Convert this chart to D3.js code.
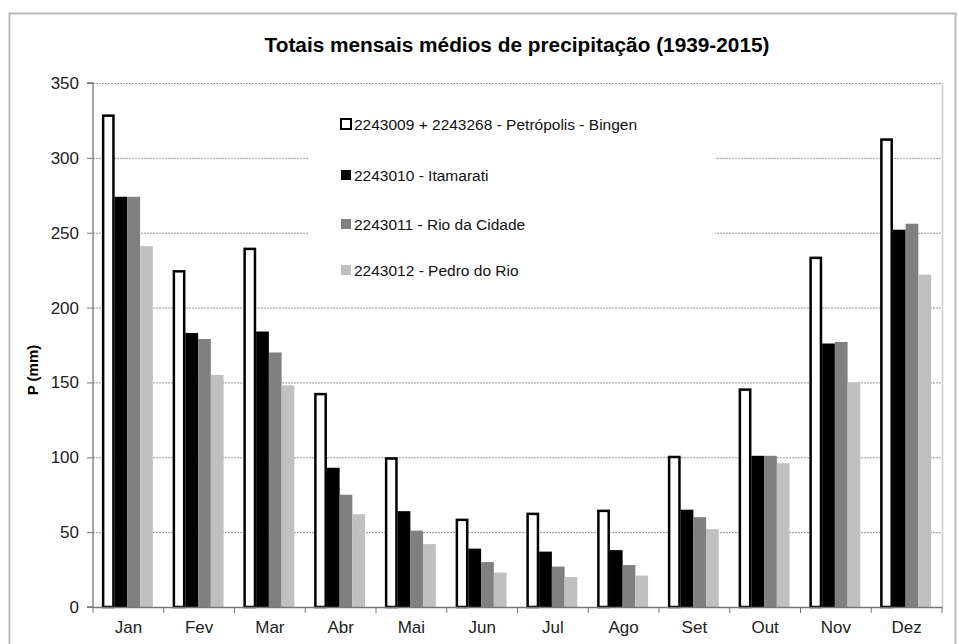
<!DOCTYPE html>
<html>
<head>
<meta charset="utf-8">
<script src="https://cdn.jsdelivr.net/npm/d3@7"></script>
<style>
  body { margin: 0; background: #fff; }
  svg { font-family: "Liberation Sans", Arial, sans-serif; }
</style>
</head>
<body>
<svg id="chart" width="958" height="644"></svg>
<script>
// data
const months = ["Jan", "Fev", "Mar", "Abr", "Mai", "Jun", "Jul", "Ago", "Set", "Out", "Nov", "Dez"];
const seriesNames = [
  "2243009 + 2243268 - Petrópolis - Bingen",
  "2243010 - Itamarati",
  "2243011 - Rio da Cidade",
  "2243012 - Pedro do Rio"
];
const petropolis = [329, 225, 240, 143, 100, 59, 63, 65, 101, 146, 234, 313];
const itamarati  = [274, 183, 184, 93, 64, 39, 37, 38, 65, 101, 176, 252];
const rioCidade  = [274, 179, 170, 75, 51, 30, 27, 28, 60, 101, 177, 256];
const pedroRio   = [241, 155, 148, 62, 42, 23, 20, 21, 52, 96, 150, 222];
const yTicks = [0, 50, 100, 150, 200, 250, 300, 350];

const series = [petropolis, itamarati, rioCidade, pedroRio];
const fills = ["#ffffff", "#000000", "#808080", "#c0c0c0"];

const svg = d3.select("#chart");
const margin = {top: 83, right: 16, bottom: 37, left: 93};
const width = 958 - margin.left - margin.right,
      height = 644 - margin.top - margin.bottom;

// outer frame
svg.append("rect")
  .attr("x", 9.5).attr("y", 13.5)
  .attr("width", 946).attr("height", 640)
  .attr("fill", "none").attr("stroke", "#bbb").attr("stroke-width", 2);

svg.append("text")
  .attr("x", 517).attr("y", 52)
  .attr("text-anchor", "middle")
  .attr("textLength", 505).attr("lengthAdjust", "spacingAndGlyphs")
  .style("font-size", "20px").style("font-weight", "bold")
  .text("Totais mensais médios de precipitação (1939-2015)");

const g = svg.append("g").attr("transform", "translate(" + margin.left + "," + margin.top + ")");

const x = d3.scaleBand().domain(months).range([0, width]);
const xInner = d3.scaleBand().domain(d3.range(4)).range([0, x.bandwidth()]).paddingOuter(0.78);
const y = d3.scaleLinear().domain([0, 350]).range([height, 0]);

// gridlines
g.append("g").selectAll("line")
  .data(yTicks.slice(1))
  .enter().append("line")
  .attr("x1", 0).attr("x2", width)
  .attr("y1", d => y(d) + 0.5).attr("y2", d => y(d) + 0.5)
  .attr("stroke", "#999").attr("stroke-dasharray", "2,1");

// plot area right border
g.append("line")
  .attr("x1", width + 0.5).attr("x2", width + 0.5)
  .attr("y1", 0).attr("y2", height)
  .attr("stroke", "#ccc").attr("stroke-width", 1.5);

// legend box covers the gridlines
const legend = g.append("g").attr("transform", "translate(215,12)");
legend.append("rect")
  .attr("x", 0).attr("y", 0).attr("width", 407).attr("height", 195)
  .attr("fill", "#fff");
const items = legend.selectAll(".item")
  .data(seriesNames)
  .enter().append("g")
  .attr("class", "item")
  .attr("transform", (d, i) => "translate(33," + [30, 81, 130, 176][i] + ")");
items.append("rect")
  .attr("x", 0).attr("y", -6).attr("width", 10).attr("height", 10)
  .attr("fill", (d, i) => fills[i])
  .attr("stroke", (d, i) => i === 0 ? "#000" : "none")
  .attr("stroke-width", 2);
items.append("text")
  .attr("x", 13).attr("y", 5)
  .style("font-size", "15.5px").attr("fill", "#111")
  .text(d => d);

// bars
const groups = g.selectAll(".month")
  .data(months)
  .enter().append("g")
  .attr("class", "month")
  .attr("transform", d => "translate(" + x(d) + ",0)");

groups.selectAll("rect")
  .data((m, mi) => series.map((s, si) => ({si: si, v: s[mi]})))
  .enter().append("rect")
  .attr("x", d => xInner(d.si) + (d.si === 0 ? 1.2 : 0) - 1)
  .attr("y", d => y(d.v) + (d.si === 0 ? 1.2 : 0))
  .attr("width", d => xInner.bandwidth() - (d.si === 0 ? 2.4 : 0))
  .attr("height", d => height - y(d.v) - (d.si === 0 ? 1.2 : 0))
  .attr("fill", d => fills[d.si])
  .attr("stroke", d => d.si === 0 ? "#000" : "none")
  .attr("stroke-width", 2.5);

// axes
const yAxis = g.append("g")
  .call(d3.axisLeft(y).tickValues(yTicks).tickSize(6).tickPadding(8));
const xAxis = g.append("g")
  .attr("transform", "translate(0," + height + ")")
  .call(d3.axisBottom(x).tickSize(0).tickPadding(14));

[yAxis, xAxis].forEach(a => {
  a.select(".domain").attr("stroke", "#777").attr("stroke-width", 1.3);
  a.selectAll(".tick line").attr("stroke", "#777");
  a.selectAll("text").style("font-size", "17px").style("font-family", "Liberation Sans, Arial, sans-serif").attr("fill", "#222");
});
yAxis.select(".domain").attr("d", "M-6," + height + "H0V0H-6");

// x ticks on category boundaries
g.append("g").selectAll("line")
  .data(months.concat(["end"]))
  .enter().append("line")
  .attr("x1", (d, i) => i * x.step()).attr("x2", (d, i) => i * x.step())
  .attr("y1", height).attr("y2", height + 6)
  .attr("stroke", "#777");

svg.append("text")
  .attr("transform", "translate(38,370) rotate(-90)")
  .attr("text-anchor", "middle")
  .style("font-size", "15px").style("font-weight", "bold")
  .text("P (mm)");
</script>
</body>
</html>
